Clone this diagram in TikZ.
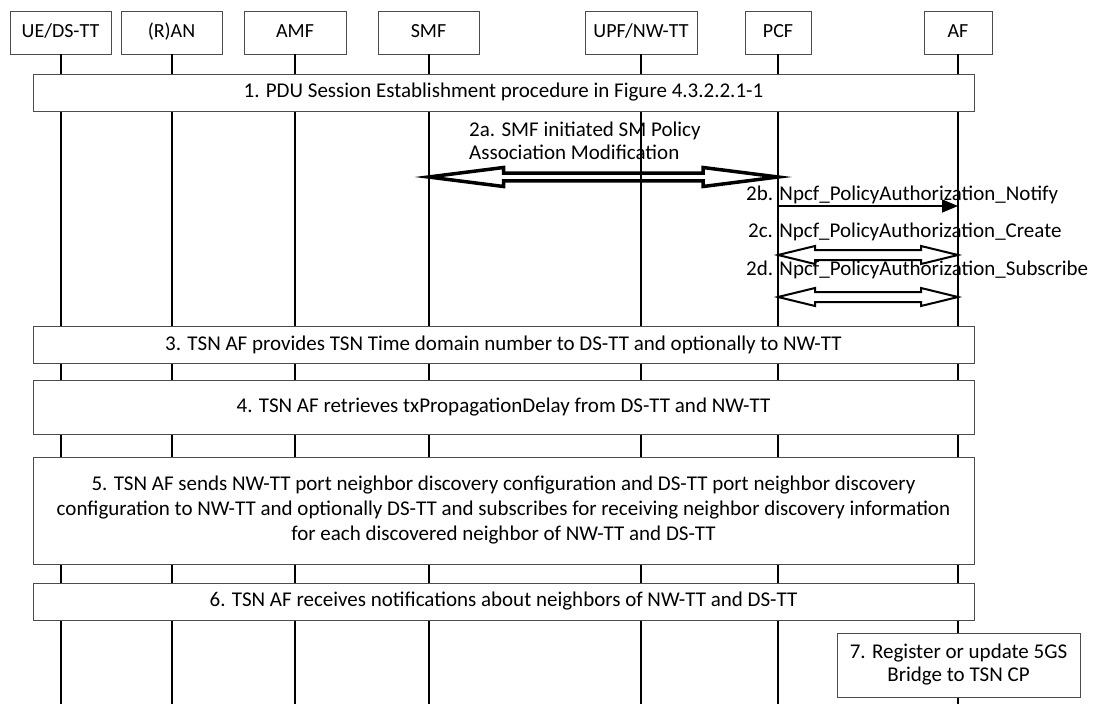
\documentclass[tikz,border=0pt]{standalone}
\usepackage{fontspec}
\setmainfont{Carlito}
\usetikzlibrary{arrows.meta,calc}

\tikzset{
  entity/.style={draw=black!70, line width=0.8pt, fill=white, minimum height=43, inner sep=0pt,
    text height=14pt, text depth=4pt, font=\fontsize{20}{23}\selectfont},
  stepbox/.style={draw=black!70, line width=0.8pt, fill=white, inner sep=0pt, align=center,
    font=\fontsize{21}{25}\selectfont},
  life/.style={line width=2pt},
  msg/.style={inner sep=0pt, anchor=west, align=left},
}

% hollow double-headed arrow: options, from, to, head length, head half width, shaft half width
\newcommand\dblarrow[6]{%
  \draw[#1, line join=miter] (#2) -- ++(#4,-#5) -- ++(0,#5-#6) -- ($(#3)+(-#4,-#6)$)
    -- ++(0,#6-#5) -- (#3) -- ++(-#4,#5) -- ++(0,#6-#5) -- ($(#2)+(#4,#6)$)
    -- ++(0,#5-#6) -- cycle;}

\begin{document}
\begin{tikzpicture}[x=1pt, y=-1pt, >=Stealth, font=\fontsize{21}{23}\selectfont]
  \useasboundingbox (0,0) rectangle (1098,704);
  \coordinate (bottom) at (0,704);

  % entities and lifelines
  \foreach \n/\x/\w/\t in {ue/60.5/101/{UE/DS-TT}, ran/171.5/101/{(R)AN}, amf/295/102/AMF,
      smf/428.5/101/SMF, upf/641/112/{UPF/NW-TT}, pcf/778/66/PCF, af/958/68/AF}{
    \node[entity, minimum width=\w] (\n) at (\x,32.5) {\t};
    \draw[life] (\n.south) -- (\n.south |- bottom);
  }

  \node[stepbox, minimum width=941, minimum height=37] (s1) at (503.5,92.5)
    {1. PDU Session Establishment procedure in Figure 4.3.2.2.1-1};

  % 2a
  \node[msg] (t2a) at (469,141) {2a. SMF initiated SM Policy\\Association Modification};
  \coordinate (a2a) at (smf |- 0,177);
  \coordinate (b2a) at (pcf |- 0,177);
  \dblarrow{line width=3.5pt}{a2a}{b2a}{75}{9.5}{3.8}

  % 2b
  \node[msg] (t2b) at (746,195) {2b. Npcf\_PolicyAuthorization\_Notify};
  \coordinate (a2b) at (pcf |- 0,206);
  \coordinate (b2b) at (af |- 0,206);
  \draw[line width=1.5pt, -{Triangle[length=16pt,width=13pt]}] (a2b) -- (b2b);

  % 2c
  \node[msg] (t2c) at (748,232) {2c. Npcf\_PolicyAuthorization\_Create};
  \coordinate (a2c) at (pcf |- 0,255);
  \coordinate (b2c) at (af |- 0,255);
  \dblarrow{line width=2pt}{a2c}{b2c}{37}{9}{5}

  % 2d
  \node[msg] (t2d) at (746,270) {2d. Npcf\_PolicyAuthorization\_Subscribe};
  \coordinate (a2d) at (pcf |- 0,297);
  \coordinate (b2d) at (af |- 0,297);
  \dblarrow{line width=2pt}{a2d}{b2d}{37}{9}{5}

  \node[stepbox, minimum width=941, minimum height=37] (s3) at (503.5,344.5)
    {3. TSN AF provides TSN Time domain number to DS-TT and optionally to NW-TT};
  \node[stepbox, minimum width=941, minimum height=54] (s4) at (503.5,407)
    {4. TSN AF retrieves txPropagationDelay from DS-TT and NW-TT};
  \node[stepbox, minimum width=941, minimum height=107] (s5) at (503.5,510.5)
    {5. TSN AF sends NW-TT port neighbor discovery configuration and DS-TT port neighbor discovery\\
     configuration to NW-TT and optionally DS-TT and subscribes for receiving neighbor discovery information\\
     for each discovered neighbor of NW-TT and DS-TT};
  \node[stepbox, minimum width=941, minimum height=37] (s6) at (503.5,601.5)
    {6. TSN AF receives notifications about neighbors of NW-TT and DS-TT};
  \node[stepbox, minimum width=243, minimum height=64, font=\fontsize{21}{23}\selectfont] (s7) at (958.5,665)
    {7. Register or update 5GS\\Bridge to TSN CP};
\end{tikzpicture}
\end{document}
